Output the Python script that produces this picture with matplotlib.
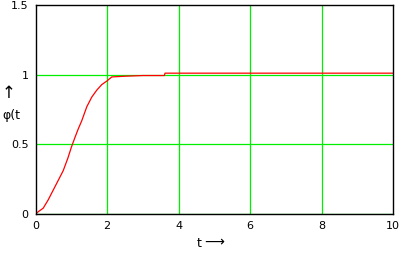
import matplotlib
matplotlib.use('Agg')
import matplotlib.pyplot as plt

# step response
t = [0, 0.1, 0.21, 0.35, 0.49, 0.63, 0.77, 0.9, 1.0, 1.1, 1.19, 1.29,
     1.43, 1.57, 1.71, 1.85, 1.99, 2.13, 2.5, 3.0, 3.6, 3.62, 10]
phi = [0, 0.02, 0.04, 0.10, 0.17, 0.24, 0.31, 0.40, 0.48, 0.55, 0.61, 0.67,
       0.77, 0.84, 0.89, 0.93, 0.955, 0.985, 0.99, 0.995, 0.995, 1.012, 1.012]

xticks = [0, 2, 4, 6, 8, 10]
yticks = [0, 0.5, 1, 1.5]
ytick_labels = ['0', '0.5', '1', '1.5']

plt.rcParams['font.family'] = 'DejaVu Sans'
fig = plt.figure(figsize=(4.01, 2.56), dpi=100)
ax = fig.add_axes([0.089, 0.165, 0.891, 0.814])

grid_green = '#00ee00'
for x in xticks[1:-1]:
    ax.axvline(x, color=grid_green, lw=0.9, zorder=1)
for y in yticks[:-1]:
    ax.axhline(y, color=grid_green, lw=0.9, zorder=1)

ax.plot(t, phi, color='#ff0000', lw=0.9, zorder=2)

ax.set_xlim(0, 10)
ax.set_ylim(0, 1.5)
ax.set_xticks(xticks)
ax.set_yticks(yticks)
ax.set_yticklabels(ytick_labels)
ax.tick_params(length=0, labelsize=8, pad=5)
for s in ax.spines.values():
    s.set_linewidth(1.0)
    s.set_color('black')

# y label: arrow above the name
fig.text(0.022, 0.635, '\u2191', fontsize=12, ha='center', va='center')
fig.text(0.028, 0.55, '\u03c6(t', fontsize=9, ha='center', va='center')
# x label
fig.text(0.497, 0.05, 't', fontsize=9, ha='center', va='center')
fig.text(0.535, 0.053, '\u27f6', fontsize=10, ha='center', va='center')

fig.savefig('out.png', dpi=100)
